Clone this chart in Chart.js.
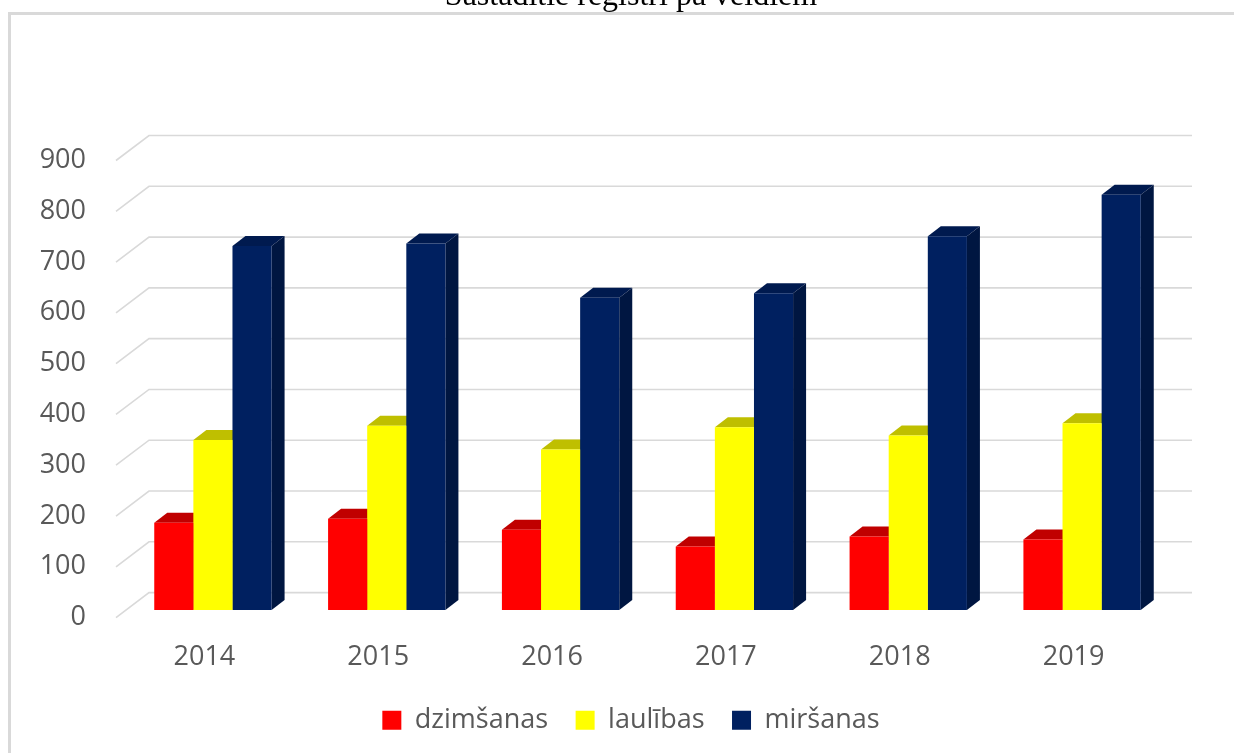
<!DOCTYPE html>
<html>
<head>
<meta charset="utf-8">
<script src="https://cdn.jsdelivr.net/npm/chart.js@4/dist/chart.umd.min.js"></script>
<style>
  html, body { margin: 0; padding: 0; background: #fff; overflow: hidden; }
  #frame { position: absolute; left: 8px; top: 12px; width: 1300px; height: 800px;
           border-left: 3px solid #D9D9D9; border-top: 3px solid #D9D9D9; }
  #myChart { position: absolute; left: 0; top: 0; }
</style>
</head>
<body>
<div id="frame"></div>
<canvas id="myChart" width="1234" height="753"></canvas>
<script>
// values
const years = ['2014', '2015', '2016', '2017', '2018', '2019'];
const dzimsanas = [172, 180, 158, 125, 145, 139];
const laulibas = [335, 363, 316, 360, 344, 368];
const mirsanas = [717, 722, 615, 624, 736, 818];

// fake 3d: bar depth and back wall / front edge offsets (px)
const dx = 13, dy = -10;
const backDx = 23, backDy = -17.5, frontDx = -10, frontDy = 7.5;

const box3d = {
    id: 'box3d',
    beforeDatasetsDraw(chart) {
        const ctx = chart.ctx;
        const area = chart.chartArea;
        const y = chart.scales.y;
        ctx.save();
        // back wall grid + diagonals to the front edge
        ctx.strokeStyle = '#D9D9D9';
        ctx.lineWidth = 1.6;
        y.ticks.forEach(t => {
            const py = y.getPixelForValue(t.value);
            ctx.beginPath();
            ctx.moveTo(area.left + frontDx, py + frontDy);
            ctx.lineTo(area.left + backDx, py + backDy);
            ctx.lineTo(area.right + backDx, py + backDy);
            ctx.stroke();
        });
        // top and side faces, the front faces are drawn by chart.js on top
        chart.data.datasets.forEach((ds, i) => {
            chart.getDatasetMeta(i).data.forEach(bar => {
                const l = bar.x - bar.width / 2;
                const r = bar.x + bar.width / 2;
                ctx.fillStyle = ds.topColor;
                ctx.beginPath();
                ctx.moveTo(l, bar.y);
                ctx.lineTo(l + dx, bar.y + dy);
                ctx.lineTo(r + dx, bar.y + dy);
                ctx.lineTo(r, bar.y);
                ctx.closePath();
                ctx.fill();
                ctx.fillStyle = ds.sideColor;
                ctx.beginPath();
                ctx.moveTo(r, bar.y);
                ctx.lineTo(r + dx, bar.y + dy);
                ctx.lineTo(r + dx, bar.base + dy);
                ctx.lineTo(r, bar.base);
                ctx.closePath();
                ctx.fill();
            });
        });
        ctx.restore();
    }
};

Chart.defaults.font.family = "'Open Sans', sans-serif";
Chart.defaults.color = '#595959';

const data = {
    labels: years,
    datasets: [{
        label: 'dzimšanas',
        data: dzimsanas,
        backgroundColor: '#FF0000',
        topColor: '#C00000',
        sideColor: '#C00000'
    }, {
        label: 'laulības',
        data: laulibas,
        backgroundColor: '#FFFF00',
        topColor: '#BFBF00',
        sideColor: '#BFBF00'
    }, {
        label: 'miršanas',
        data: mirsanas,
        backgroundColor: '#002060',
        topColor: '#001A4F',
        sideColor: '#001641'
    }]
};

const config = {
    type: 'bar',
    data: data,
    options: {
        responsive: false,
        animation: false,
        devicePixelRatio: 1,
        categoryPercentage: 0.675,
        barPercentage: 1,
        borderWidth: 0,
        layout: { padding: { left: 28, right: 0, top: 0, bottom: 9.2 } },
        scales: {
            x: {
                grid: { display: false, drawTicks: false },
                border: { display: false },
                ticks: { font: { size: 27 }, padding: 31.5, labelOffset: -8.5 },
                afterFit(scale) { scale.height = 69.2; }
            },
            y: {
                min: 0,
                max: 900,
                grid: { display: false, drawTicks: false },
                border: { display: false },
                ticks: { stepSize: 100, font: { size: 27 }, padding: 40, labelOffset: 7.4 },
                afterFit(scale) { scale.width = 98; }
            },
            // empty space on the right, keeps legend and title centred like the original
            yRight: {
                position: 'right',
                grid: { display: false, drawTicks: false },
                border: { display: false },
                ticks: { display: false },
                afterFit(scale) { scale.width = 65; }
            }
        },
        plugins: {
            title: {
                display: true,
                text: 'Sastādītie reģistri pa veidiem',
                color: '#000',
                font: { family: "'Liberation Serif', serif", size: 32, weight: 'normal' },
                padding: { top: -23, bottom: 137.6 }
            },
            legend: {
                position: 'bottom',
                labels: { font: { size: 27 }, boxWidth: 19, boxHeight: 19, padding: 27.5 }
            },
            tooltip: { enabled: false }
        }
    },
    plugins: [box3d]
};

const myChart = new Chart(document.getElementById('myChart'), config);
</script>
</body>
</html>
